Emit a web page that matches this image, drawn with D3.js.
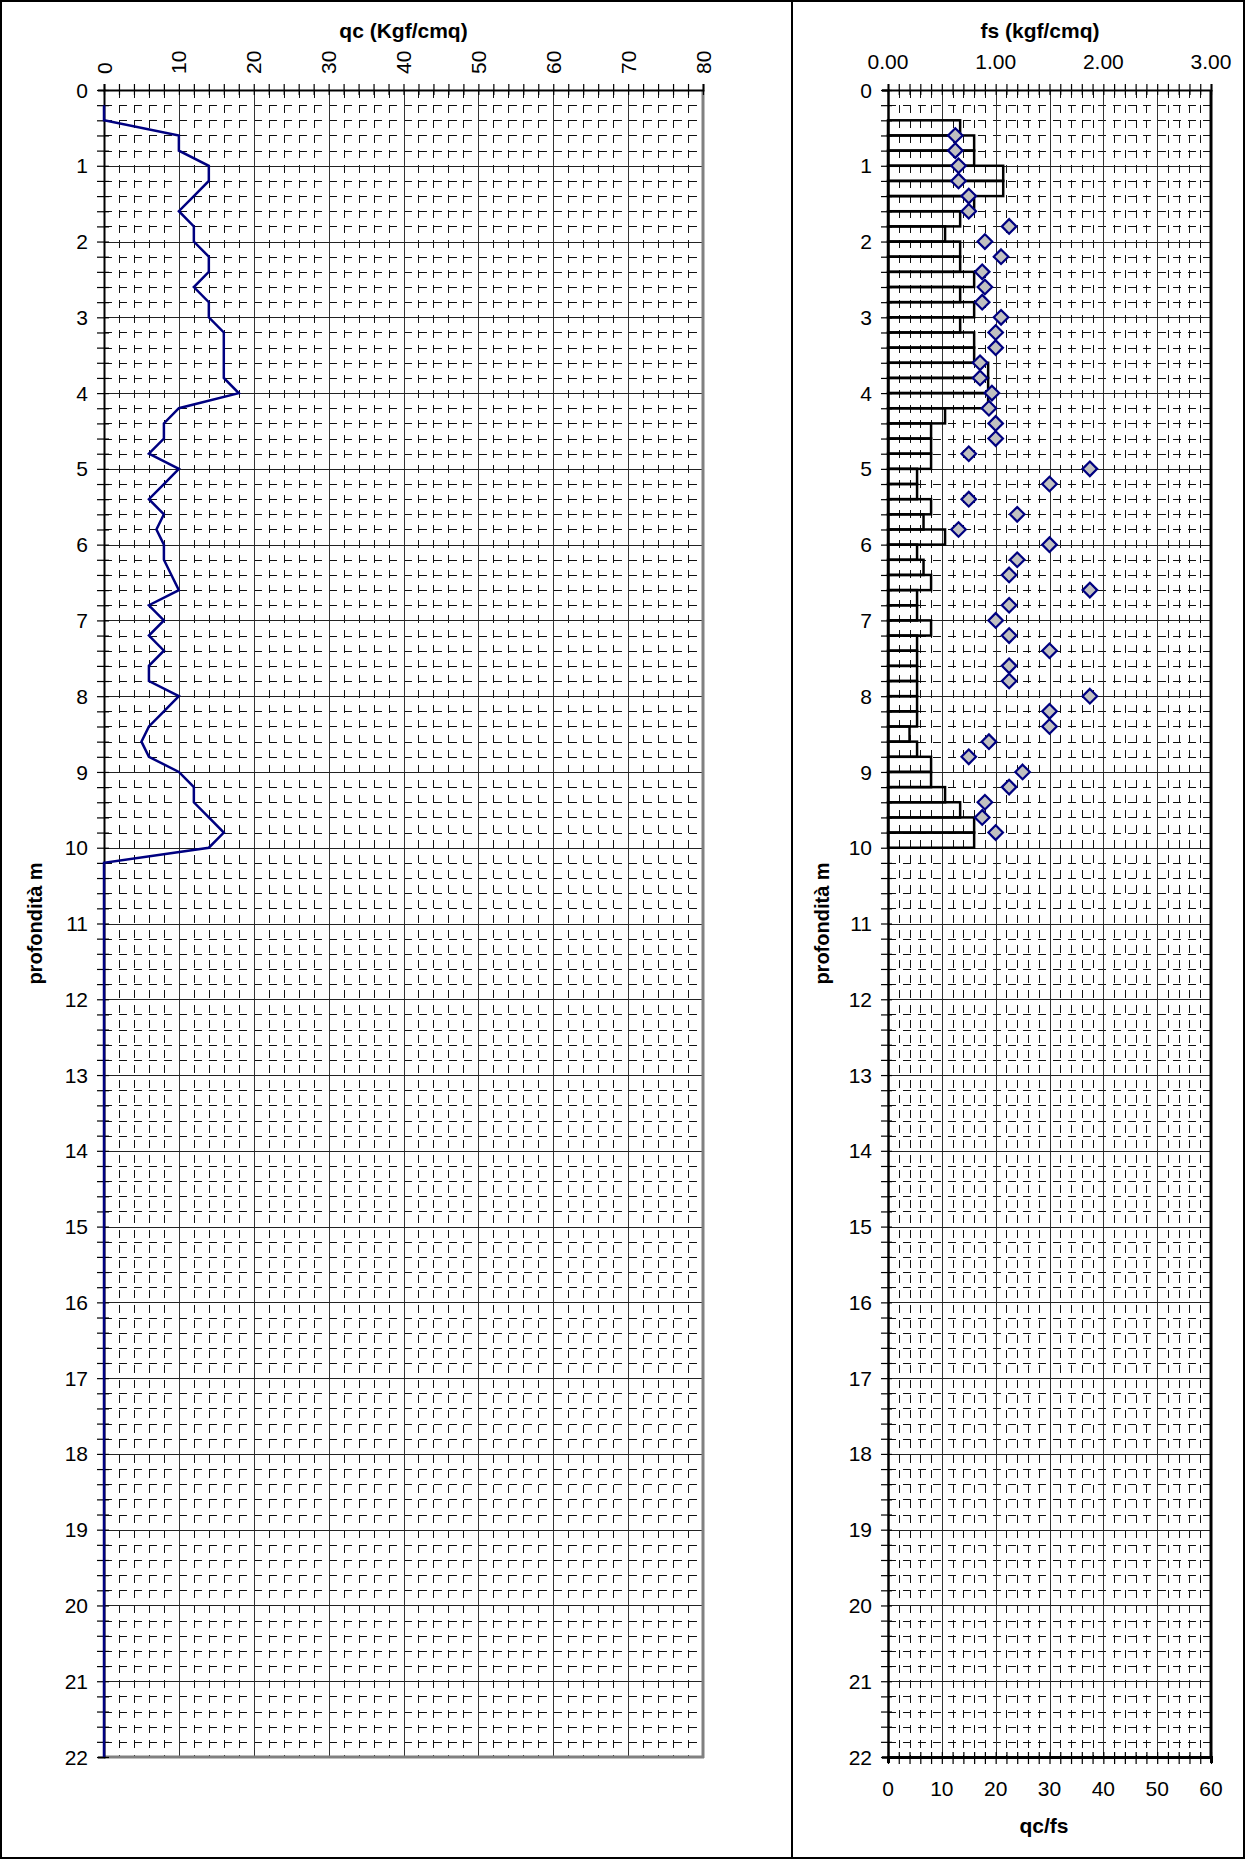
<!DOCTYPE html>
<html><head><meta charset="utf-8">
<script src="https://cdn.jsdelivr.net/npm/d3@7"></script>
<style>body{margin:0;background:#fff} text{font-family:"Liberation Sans",Arial,sans-serif;fill:#000}</style>
</head><body><svg id="c" width="1245" height="1859"></svg>
<script>
// ---- data ----
const qcDepths = [0.2,0.4,0.6,0.8,1.0,1.2,1.4,1.6,1.8,2.0,2.2,2.4,2.6,2.8,3.0,3.2,3.4,3.6,3.8,4.0,4.2,4.4,4.6,4.8,5.0,5.2,5.4,5.6,5.8,6.0,6.2,6.4,6.6,6.8,7.0,7.2,7.4,7.6,7.8,8.0,8.2,8.4,8.6,8.8,9.0,9.2,9.4,9.6,9.8,10.0,10.2,22.0];
const qcValues = [0,0,10,10,14,14,12,10,12,12,14,14,12,14,14,16,16,16,16,18,10,8,8,6,10,8,6,8,7,8,8,9,10,6,8,6,8,6,6,10,8,6,5,6,10,12,12,14,16,14,0,0];
const fsDepths = [0.4,0.6,0.8,1.0,1.2,1.4,1.6,1.8,2.0,2.2,2.4,2.6,2.8,3.0,3.2,3.4,3.6,3.8,4.0,4.2,4.4,4.6,4.8,5.0,5.2,5.4,5.6,5.8,6.0,6.2,6.4,6.6,6.8,7.0,7.2,7.4,7.6,7.8,8.0,8.2,8.4,8.6,8.8,9.0,9.2,9.4,9.6,9.8];
const fsValues = [0.67,0.80,0.80,1.07,1.07,0.80,0.67,0.53,0.67,0.67,0.80,0.67,0.80,0.67,0.80,0.80,0.93,0.93,0.93,0.53,0.40,0.40,0.40,0.27,0.27,0.40,0.33,0.53,0.27,0.33,0.40,0.27,0.27,0.40,0.27,0.27,0.27,0.27,0.27,0.27,0.20,0.27,0.40,0.40,0.53,0.67,0.80,0.80];
const ratioDepths = [0.6,0.8,1.0,1.2,1.4,1.6,1.8,2.0,2.2,2.4,2.6,2.8,3.0,3.2,3.4,3.6,3.8,4.0,4.2,4.4,4.6,4.8,5.0,5.2,5.4,5.6,5.8,6.0,6.2,6.4,6.6,6.8,7.0,7.2,7.4,7.6,7.8,8.0,8.2,8.4,8.6,8.8,9.0,9.2,9.4,9.6,9.8];
const ratioValues = [12.5,12.5,13.1,13.1,15,15,22.5,18,21,17.5,18,17.5,21,20,20,17.1,17.1,19.3,18.75,20,20,15,37.5,30,15,24,13.1,30,24,22.5,37.5,22.5,20,22.5,30,22.5,22.5,37.5,30,30,18.75,15,25,22.5,18,17.5,20];
const depthTicks = [0,1,2,3,4,5,6,7,8,9,10,11,12,13,14,15,16,17,18,19,20,21,22];
const qcTicks = [0,10,20,30,40,50,60,70,80];
const fsTicks = [0,1,2,3];
const fsTickLabels = ["0.00","1.00","2.00","3.00"];
const ratioTicks = [0,10,20,30,40,50,60];
const titles = {qc:"qc (Kgf/cmq)", fs:"fs (kgf/cmq)", ratio:"qc/fs", depth:"profondità m"};

// ---- layout ----
const L = {x0:104, x1:703, y0:90, y1:1757};
const R = {x0:888, x1:1211, y0:90, y1:1757};
const svg = d3.select("#c");
const FS = 21;

const yL = d3.scaleLinear().domain([0,22]).range([L.y0,L.y1]);
const xQc = d3.scaleLinear().domain([0,80]).range([L.x0,L.x1]);
const yR = d3.scaleLinear().domain([0,22]).range([R.y0,R.y1]);
const xFs = d3.scaleLinear().domain([0,3]).range([R.x0,R.x1]);
const xRatio = d3.scaleLinear().domain([0,60]).range([R.x0,R.x1]);

const px = v => Math.round(v) + 0.5;

// outer frame + divider
svg.append("rect").attr("x",1).attr("y",1).attr("width",1243).attr("height",1857)
  .attr("fill","none").attr("stroke","#000").attr("stroke-width",2);
svg.append("line").attr("x1",792).attr("x2",792).attr("y1",0).attr("y2",1859)
  .attr("stroke","#000").attr("stroke-width",2);

function grid(g, xs, xMinor, xMajor, ys, box){
  const [d0,d1] = xs.domain();
  const vMinor = d3.range(d0, d1+1e-9, xMinor).filter(v => Math.abs(v/xMajor - Math.round(v/xMajor))>1e-6);
  const vMajor = d3.range(d0+xMajor, d1-1e-9, xMajor);
  const hMinor = d3.range(0, 22+1e-9, 0.2).filter(v => Math.abs(v - Math.round(v))>1e-6);
  const hMajor = d3.range(1, 22, 1);
  g.selectAll(".vmin").data(vMinor).join("line")
    .attr("x1",d=>px(xs(d))).attr("x2",d=>px(xs(d))).attr("y1",box.y0).attr("y2",box.y1)
    .attr("stroke","#111").attr("stroke-width",1).attr("stroke-dasharray","8,7");
  g.selectAll(".hmin").data(hMinor).join("line")
    .attr("y1",d=>px(ys(d))).attr("y2",d=>px(ys(d))).attr("x1",box.x0).attr("x2",box.x1)
    .attr("stroke","#111").attr("stroke-width",1).attr("stroke-dasharray","8,7");
  g.selectAll(".vmaj").data(vMajor).join("line")
    .attr("x1",d=>px(xs(d))).attr("x2",d=>px(xs(d))).attr("y1",box.y0).attr("y2",box.y1)
    .attr("stroke","#333").attr("stroke-width",1);
  g.selectAll(".hmaj").data(hMajor).join("line")
    .attr("y1",d=>px(ys(d))).attr("y2",d=>px(ys(d))).attr("x1",box.x0).attr("x2",box.x1)
    .attr("stroke","#222").attr("stroke-width",1);
}

// ================= LEFT CHART =================
const gl = svg.append("g");
grid(gl.append("g"), xQc, 2, 10, yL, L);

// borders (right/bottom gray)
gl.append("line").attr("x1",L.x1).attr("x2",L.x1).attr("y1",L.y0).attr("y2",L.y1+1).attr("stroke","#808080").attr("stroke-width",3);
gl.append("line").attr("x1",L.x0).attr("x2",L.x1+1).attr("y1",L.y1).attr("y2",L.y1).attr("stroke","#808080").attr("stroke-width",3);

// top axis (qc)
const topAxisL = gl.append("g").attr("transform",`translate(0,${L.y0})`);
topAxisL.call(d3.axisTop(xQc).tickValues(d3.range(0,81,2)).tickSize(6).tickFormat(""));
topAxisL.selectAll(".tick line").attr("y2",-6).attr("y1",5).attr("stroke","#000").attr("stroke-width",1.2);
topAxisL.select(".domain").attr("stroke","#000").attr("stroke-width",2);
gl.selectAll(".qcLab").data(qcTicks).join("text")
  .attr("transform",d=>`translate(${xQc(d)+0.36*FS},${74}) rotate(-90)`)
  .attr("font-size",FS).attr("text-anchor","start").text(d=>d);

// left axis (depth)
const leftAxisL = gl.append("g").attr("transform",`translate(${L.x0},0)`);
leftAxisL.call(d3.axisLeft(yL).tickValues(d3.range(0,22.001,0.2)).tickSize(6).tickFormat(""));
leftAxisL.selectAll(".tick line").attr("x1",5).attr("x2",-7).attr("stroke","#000").attr("stroke-width",1.2);
leftAxisL.select(".domain").attr("stroke","#000").attr("stroke-width",2);
gl.selectAll(".dLab").data(depthTicks).join("text")
  .attr("x",L.x0-16).attr("y",d=>yL(d)+0.36*FS).attr("font-size",FS).attr("text-anchor","end").text(d=>d);

// qc line
const qcPts = qcDepths.map((d,i)=>[qcValues[i], d]);
gl.append("path").datum(qcPts)
  .attr("d", d3.line().x(d=>xQc(d[0])).y(d=>yL(d[1])))
  .attr("fill","none").attr("stroke","#000080").attr("stroke-width",2.5).attr("stroke-linejoin","miter");

// titles
gl.append("text").attr("x",(L.x0+L.x1)/2).attr("y",38).attr("font-size",FS).attr("font-weight","bold")
  .attr("text-anchor","middle").text(titles.qc);
gl.append("text").attr("transform",`translate(${42},${(L.y0+L.y1)/2}) rotate(-90)`)
  .attr("font-size",FS-1).attr("font-weight","bold").attr("text-anchor","middle").text(titles.depth);

// ================= RIGHT CHART =================
const gr = svg.append("g");
grid(gr.append("g"), xRatio, 2, 10, yR, R);

// fs bars (no fill)
gr.selectAll(".bar").data(fsDepths.map((d,i)=>({d, v:fsValues[i]}))).join("rect")
  .attr("x",xFs(0)).attr("y",d=>yR(d.d)).attr("width",d=>xFs(d.v)-xFs(0)).attr("height",d=>yR(d.d+0.2)-yR(d.d))
  .attr("fill","none").attr("stroke","#000").attr("stroke-width",2.5);

// axes
const topAxisR = gr.append("g").attr("transform",`translate(0,${R.y0})`);
topAxisR.call(d3.axisTop(xFs).tickValues(d3.range(0,3.0001,0.1)).tickSize(6).tickFormat(""));
topAxisR.selectAll(".tick line").attr("y2",-6).attr("y1",5).attr("stroke","#000").attr("stroke-width",1.2);
topAxisR.select(".domain").attr("stroke","#000").attr("stroke-width",2);
gr.selectAll(".fsLab").data(fsTicks).join("text")
  .attr("x",d=>xFs(d)).attr("y",69).attr("font-size",FS).attr("text-anchor","middle").text((d,i)=>fsTickLabels[i]);

const botAxisR = gr.append("g").attr("transform",`translate(0,${R.y1})`);
botAxisR.call(d3.axisBottom(xRatio).tickValues(d3.range(0,60.001,2)).tickSize(6).tickFormat(""));
botAxisR.selectAll(".tick line").attr("y1",-5).attr("y2",7).attr("stroke","#000").attr("stroke-width",1.2);
botAxisR.select(".domain").attr("stroke","#000").attr("stroke-width",3);
gr.selectAll(".rLab").data(ratioTicks).join("text")
  .attr("x",d=>xRatio(d)).attr("y",1796).attr("font-size",FS).attr("text-anchor","middle").text(d=>d);

const leftAxisR = gr.append("g").attr("transform",`translate(${R.x0},0)`);
leftAxisR.call(d3.axisLeft(yR).tickValues(d3.range(0,22.001,0.2)).tickSize(6).tickFormat(""));
leftAxisR.selectAll(".tick line").attr("x1",4).attr("x2",-7).attr("stroke","#000").attr("stroke-width",1.2);
leftAxisR.select(".domain").attr("stroke","#000").attr("stroke-width",2.5);
gr.selectAll(".dLabR").data(depthTicks).join("text")
  .attr("x",R.x0-16).attr("y",d=>yR(d)+0.36*FS).attr("font-size",FS).attr("text-anchor","end").text(d=>d);

// right border
gr.append("line").attr("x1",R.x1).attr("x2",R.x1).attr("y1",R.y0).attr("y2",R.y1+1).attr("stroke","#000").attr("stroke-width",3);

// qc/fs diamonds
const sym = d3.symbol().type(d3.symbolDiamond2).size(135);
gr.selectAll(".dia").data(ratioDepths.map((d,i)=>({d, v:ratioValues[i]}))).join("path")
  .attr("transform",d=>`translate(${xRatio(d.v)},${yR(d.d)})`)
  .attr("d",sym).attr("fill","#c0c0c0").attr("stroke","#000080").attr("stroke-width",2.2);

// titles
gr.append("text").attr("x",1040).attr("y",38).attr("font-size",FS).attr("font-weight","bold")
  .attr("text-anchor","middle").text(titles.fs);
gr.append("text").attr("x",1044).attr("y",1833).attr("font-size",FS).attr("font-weight","bold")
  .attr("text-anchor","middle").text(titles.ratio);
gr.append("text").attr("transform",`translate(${829},${(R.y0+R.y1)/2}) rotate(-90)`)
  .attr("font-size",FS-1).attr("font-weight","bold").attr("text-anchor","middle").text(titles.depth);
</script></body></html>
